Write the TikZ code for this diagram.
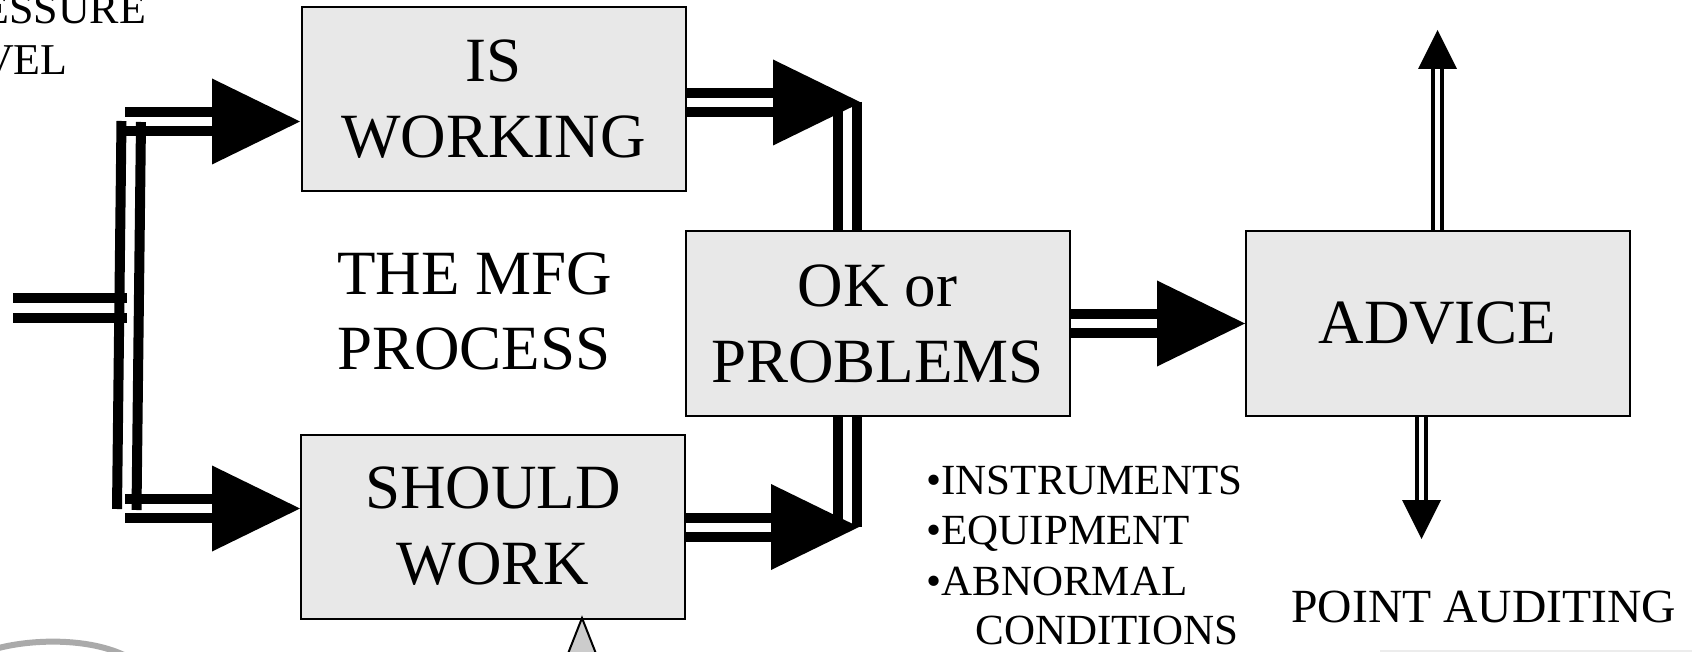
\documentclass[tikz,border=0pt]{standalone}
\usepackage{fontspec}
\setmainfont{Liberation Serif}
\usetikzlibrary{calc,backgrounds}
\definecolor{boxgray}{RGB}{232,232,232}
\definecolor{tipgray}{RGB}{204,204,204}
\definecolor{curvegray}{RGB}{170,170,170}
\begin{document}
\begin{tikzpicture}[x=0.5pt,y=-0.5pt,
  box/.style={draw=black, line width=1pt, fill=boxgray, minimum width=192pt,
    minimum height=92pt, inner sep=0pt, align=center,
    font=\fontsize{31.5}{38}\selectfont},
  bigtext/.style={inner sep=0pt, anchor=base west, font=\fontsize{31.5}{38}\selectfont},
  smalltext/.style={inner sep=0pt, anchor=base west, font=\fontsize{21.5}{25}\selectfont},
  bar/.style={line width=5pt, draw=black},
  pipe/.style={line width=5pt, draw=black, double=white, double distance=4.5pt},
  thinpipe/.style={line width=2pt, draw=black, double=white, double distance=2.5pt},
  bighead/.pic={\fill[black] (0,0) -- (-88,-43) -- (-88,43) -- cycle;},
]
\useasboundingbox (0,0) rectangle (1692,652);
\clip (0,0) rectangle (1692,652);

% boxes
\node[box] (work)   at (493.5,99.5)  {IS\\WORKING};
\node[box] (should) at (493,526.5)   {SHOULD\\WORK};
\node[box] (ok)     at (877.5,323.5) {OK or\\PROBLEMS};
\node[box] (advice) at (1437.5,323.5) {ADVICE};

% free texts
\node[bigtext] (mfg1) at (337,295) {THE MFG};
\node[bigtext] (mfg2) at (337,369) {PROCESS};
\node[inner sep=0pt, anchor=base west, font=\fontsize{22}{26}\selectfont] (pr1) at (-72,24) {PRESSURE};
\node[inner sep=0pt, anchor=base west, font=\fontsize{22}{26}\selectfont] (pr2) at (-72,75) {LEVEL};
\node[smalltext] (b1) at (926,494) {•INSTRUMENTS};
\node[smalltext] (b2) at (926,544) {•EQUIPMENT};
\node[smalltext] (b3) at (926,595) {•ABNORMAL};
\node[smalltext] (b4) at (975,644) {CONDITIONS};
\node[inner sep=0pt, anchor=base west, font=\fontsize{23.8}{28}\selectfont] (pa) at (1291,622) {POINT AUDITING};

% key points
\coordinate (in)  at (13,308);
\coordinate (hA)  at (300,121.5);
\coordinate (hB)  at (300,508.5);
\coordinate (hC)  at (861,102.5);
\coordinate (hD)  at (859,527);
\coordinate (hE)  at (1245,323.5);
\coordinate (vC)  at (847.5,102);
\coordinate (vD)  at (847.5,527);
\coordinate (up)  at (1437.5,30);
\coordinate (dn)  at (1421.5,539);
\coordinate (gt)  at (582,618);

\begin{pgfonlayer}{background}
  % input and split
  \draw[bar] (in |- 0,298) -- (127,298);
  \draw[bar] (in |- 0,318) -- (127,318);
  \draw[bar] (121.5,121) -- (117,509);
  \draw[bar] (141,122) -- (136.5,510);
  \draw[bar] (125,112) -- (215,112);
  \draw[bar] (125,131) -- (215,131);
  \draw[bar] (125,499) -- (215,499);
  \draw[bar] (125,518) -- (215,518);
  % IS WORKING -> OK
  \draw[pipe] (work.east |- hC) -- ($(hC)+(-86,0)$);
  \draw[pipe] (vC) -- (vC |- ok.north);
  % SHOULD WORK -> OK
  \draw[pipe] (should.east |- hD) -- ($(hD)+(-86,0)$);
  \draw[pipe] (vD |- ok.south) -- (vD);
  % OK -> ADVICE
  \draw[pipe] (ok.east) -- ($(hE)+(-86,0)$);
  % ADVICE up / down
  \draw[thinpipe] (advice.north -| up) -- ($(up)+(0,37)$);
  \draw[thinpipe] (advice.south -| dn) -- ($(dn)+(0,-37)$);
  % heads
  \pic at (hA) {bighead};
  \pic at (hB) {bighead};
  \pic at (hC) {bighead};
  \pic at (hD) {bighead};
  \pic at (hE) {bighead};
  \fill[black] (up) -- ++(-19.5,39) -- ++(39,0) -- cycle;
  \fill[black] (dn) -- ++(-19.5,-39) -- ++(39,0) -- cycle;
\end{pgfonlayer}

% gray pointer below SHOULD WORK
\filldraw[fill=tipgray, draw=black, line width=1pt] (gt) -- ++(-22,56) -- ++(44,0) -- cycle;
% partial gray curve bottom left
\draw[curvegray, line width=3pt] (-5,649) .. controls (30,639) and (90,637) .. (128,657);
% faint line bottom right
\draw[gray!15, line width=1pt] (1380,651) -- (1692,651);
\end{tikzpicture}
\end{document}
